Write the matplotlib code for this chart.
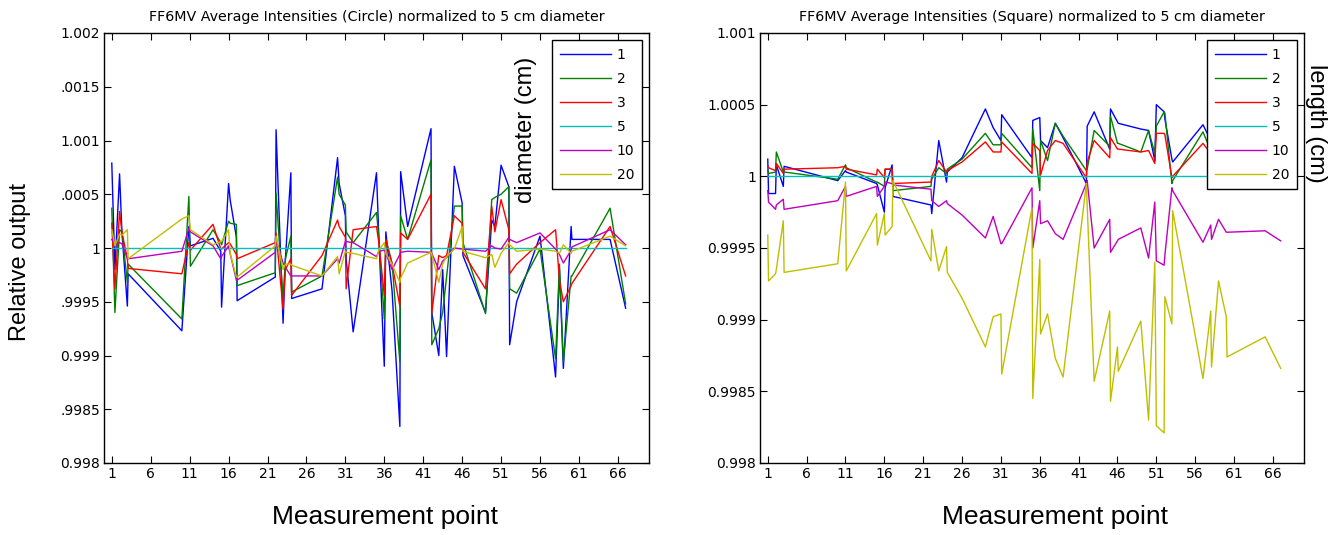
import numpy as np
import matplotlib.pyplot as plt

plt.rcParams['font.family'] = ['Liberation Sans', 'DejaVu Sans']

# legend entries (field size, cm) and Matlab default colours
sizes = ['1', '2', '3', '5', '10', '20']
colors = [(0, 0, 1), (0, 0.5, 0), (1, 0, 0), (0, 0.75, 0.75), (0.75, 0, 0.75), (0.75, 0.75, 0)]

# ---- Circle fields: measurement point, deviation from 1 in units of 1e-4 ----
circle_x = [1, 1.4, 2, 2.3, 3, 3.1, 10, 10.9, 11.1, 14, 15, 15.1, 16, 16.2, 17, 17.1,
            22, 22.1, 23, 23.3, 24, 24.1, 28, 30, 30.2, 31, 31.1, 32, 35, 35.3, 36, 36.2,
            37, 38, 38.1, 39, 42, 42.1, 43, 43.5, 44, 45, 46, 46.1, 49, 49.8, 50.2, 51,
            52, 52.1, 53, 56, 58, 58.5, 59, 60, 60.1, 65, 67]
circle_1 = [7.9, -2.0, 6.9, 1.5, -5.4, -2.4, -7.7, 2.0, 0.2, 0.9, -0.3, -5.5, 6.0, 4.5, 1.0, -4.9,
            -2.7, 11.0, -7.0, -1.0, 7.0, -4.7, -3.8, 8.4, 6.0, 3.0, -1.0, -7.8, 7.0, 1.0, -11.0, 1.5,
            -4.0, -16.6, 7.1, 2.0, 11.1, -6.0, -10.0, -2.0, -10.1, 7.6, 4.2, -0.7, -6.0, 2.6, 2.0, 7.7,
            5.7, -9.0, -5.0, 1.1, -12.0, -2.0, -11.2, 2.0, 0.8, 0.8, -5.6]
circle_2 = [3.7, -6.0, 1.7, 1.5, -3.2, -1.5, -6.6, 4.8, -1.7, 1.7, 0.5, 0.3, 2.5, 2.3, 2.2, -3.5,
            -2.3, 5.1, -4.7, -1.0, 1.1, -4.1, -2.6, 6.6, 5.0, 4.0, 1.5, 0.5, 3.3, 1.0, -6.6, 0.8,
            -1.4, -10.6, 3.0, 0.8, 8.2, -9.0, -7.5, -6.0, -2.7, 3.9, 3.9, 0.5, -6.1, 4.5, 4.7, 5.0,
            5.7, -3.8, -4.2, -0.1, -10.3, -1.5, -10.6, -2.6, -2.6, 3.7, -5.2]
circle_3 = [2.3, -3.8, 3.4, 1.5, -1.0, -1.9, -2.4, 0.5, -0.2, 2.2, -0.1, -0.1, 0.5, 0.4, -0.6, -1.0,
            0.5, 1.4, -5.7, -2.0, -1.0, -4.4, -0.7, 2.6, 2.0, 1.0, -3.8, 1.7, 2.0, 0.5, -4.4, 0.8,
            -1.5, -5.4, 1.4, 0.8, 5.0, -6.1, -0.7, -0.9, -0.7, 3.0, 2.3, -0.4, -3.8, 3.9, 1.5, 4.5,
            1.7, -2.4, -1.5, 0.5, 1.7, -3.0, -5.0, -3.5, -3.3, 2.0, -2.6]
circle_5 = [0.0] * len(circle_x)
circle_10 = [0.8, 0.3, 0.5, 0.4, -1.0, -1.0, -0.3, 1.8, 1.5, 0.2, -1.0, -0.8, 0.2, -0.5, -3.0, -3.0,
             -0.4, 0.8, -1.4, -1.8, -2.6, -2.6, -2.6, -1.0, -1.4, 0.6, 0.6, 0.5, -0.8, -0.3, -0.2, -0.5,
             -2.0, -0.6, -0.4, -0.3, -0.4, -0.5, -2.0, -1.2, -0.9, 0.0, -0.1, -0.1, -0.3, 0.2, 0.0, -0.1,
             1.0, 0.8, 0.5, 1.4, -0.1, -0.6, -1.4, -0.2, 0.1, 1.7, 0.3]
circle_20 = [1.7, 0.2, 1.3, 1.2, 1.7, -1.0, 2.7, 3.0, 1.7, 0.3, 0.6, 0.6, 1.7, -0.5, -2.7, -2.7,
             0.2, 1.1, -2.0, -1.5, -1.5, -1.6, -2.6, -0.8, -2.4, -0.3, -0.4, -0.5, -1.0, -0.2, 0.5, -0.5,
             -1.5, -3.2, -2.8, -1.4, -0.4, -0.6, -3.2, -1.5, -0.8, -0.1, 2.0, -0.3, -0.9, -0.6, -1.8, -0.5,
             0.5, 0.3, -0.3, -0.1, -0.3, -0.5, 0.3, -0.5, -0.3, 1.1, 0.2]

# ---- Square fields ----
square_x = [1, 1.1, 2, 2.1, 3, 3.1, 10, 11, 11.1, 15, 15.1, 16, 16.1, 17, 17.1, 22, 22.1, 23, 24, 24.1,
            26, 29, 30, 31, 31.1, 35, 35.1, 36, 36.1, 37, 38, 39, 42, 42.1, 43, 45, 45.1, 46, 46.1,
            49, 50, 50.8, 51, 52, 52.1, 53, 53.1, 57, 58, 58.1, 59, 60, 60.1, 65, 67]
square_1 = [1.2, -1.2, -1.2, 0.8, -0.7, 0.7, -0.3, 0.4, 0.3, -0.5, -0.6, -2.5, -0.8, 0.8, -1.4,
            -2.0, -2.6, 2.5, -0.4, 0.3, 1.3, 4.7, 3.4, 2.5, 4.3, 1.3, 3.9, 4.1, 2.5, 2.0, 3.7, 2.7,
            -0.5, 3.5, 4.5, 1.9, 4.7, 3.8, 3.7, 3.3, 3.2, 1.1, 5.0, 4.5, 4.0, 1.2, 1.0,
            3.6, 2.5, 3.0, 2.0, 2.5, 2.5, 2.5, 2.0]
square_2 = [0.4, 0.2, 0.3, 1.7, 0.3, 0.3, -0.2, 0.8, 0.6, -0.4, -0.4, -0.7, 0.5, 0.5, -1.0,
            -0.7, -0.2, 0.6, 0.2, 0.5, 1.2, 3.0, 2.2, 2.2, 3.0, 0.6, 3.3, -1.0, 2.5, 1.1, 3.7, 2.8,
            0.4, 0.5, 3.2, 2.1, 4.2, 2.3, 2.3, 1.7, 3.2, 1.6, 3.5, 4.5, 4.4, -0.5, -0.3,
            3.1, 1.8, 2.2, 1.6, 2.0, 2.0, 2.0, 1.6]
square_3 = [0.7, 0.6, 0.4, 0.9, 0.2, 0.5, 0.6, 0.7, 0.5, 0.1, 0.5, -0.1, 0.5, 0.5, -0.5,
            -0.4, 0.0, 1.1, 0.3, 0.4, 1.0, 2.4, 1.7, 1.7, 2.4, 0.2, 2.3, 1.8, 0.1, 1.8, 2.5, 2.3,
            -0.1, 1.0, 2.5, 1.3, 2.7, 1.9, 1.9, 1.7, 1.8, 0.9, 3.0, 3.0, 2.9, -0.1, 0.0,
            2.3, 1.6, 1.8, 1.4, 1.7, 1.7, 1.7, 1.4]
square_5 = [0.0] * len(square_x)
square_10 = [-1.0, -1.8, -2.3, -2.0, -1.6, -2.3, -1.7, -0.7, -1.4, -0.7, -1.4, -0.7, -0.4, -0.5, -0.6,
             -0.9, -1.7, -2.1, -1.7, -1.9, -2.7, -4.3, -2.8, -4.7, -4.7, -0.8, -5.0, -1.7, -3.3, -3.1, -4.0, -4.4,
             -0.5, -0.3, -5.0, -3.0, -5.3, -4.5, -4.4, -3.6, -5.7, -1.8, -5.9, -6.2, -5.5, -0.8, -1.0,
             -4.6, -3.4, -4.4, -3.0, -3.9, -3.9, -3.8, -4.5]
square_20 = [-4.1, -7.3, -6.8, -6.5, -3.1, -6.7, -6.1, -0.4, -6.6, -2.6, -4.8, -2.6, -4.1, -3.5, -0.3,
             -5.9, -3.7, -6.6, -4.9, -6.7, -8.5, -11.9, -9.8, -9.6, -13.8, -2.2, -15.5, -5.8, -11.0, -9.6, -12.7, -14.0,
             -0.5, -2.0, -14.3, -9.4, -15.7, -11.9, -13.6, -10.1, -17.0, -6.0, -17.4, -17.9, -8.4, -10.3, -2.4,
             -14.1, -9.4, -13.3, -7.3, -9.8, -12.6, -11.2, -13.4]

xticks = list(range(1, 67, 5))
circle_yticks = [0.998, 0.9985, 0.999, 0.9995, 1.0, 1.0005, 1.001, 1.0015, 1.002]
circle_ylabels = ['0.998', '.9985', '0.999', '.9995', '1', '.0005', '1.001', '.0015', '1.002']
square_yticks = [0.998, 0.9985, 0.999, 0.9995, 1.0, 1.0005, 1.001]
square_ylabels = ['0.998', '0.9985', '0.999', '0.9995', '1', '1.0005', '1.001']

W, H = 1335, 535
fig = plt.figure(figsize=(W / 100, H / 100), dpi=100)
axL = fig.add_axes([104 / W, 72 / H, 545 / W, 430 / H])
axR = fig.add_axes([760 / W, 72 / H, 544 / W, 430 / H])

small = 'DejaVu Sans'


def draw_panel(ax, x, series, yticks, ylabels, title):
    for vals, c, lab in zip(series, colors, sizes):
        ax.plot(x, 1 + np.array(vals) * 1e-4, '-', color=c, linewidth=1.0, label=lab)
    ax.set_xlim(0, 70)
    ax.set_ylim(yticks[0], yticks[-1])
    ax.set_xticks(xticks)
    ax.set_yticks(yticks)
    ax.set_yticklabels(ylabels)
    ax.tick_params(direction='in', top=True, right=True, length=5, width=0.8,
                   labelsize=10, pad=3)
    for lbl in ax.get_xticklabels() + ax.get_yticklabels():
        lbl.set_family(small)
    for s in ax.spines.values():
        s.set_linewidth(1.0)
    ax.set_title(title, fontsize=10.3, family=small, pad=9)
    leg = ax.legend(loc='upper right', prop={'family': small, 'size': 10},
                    handlelength=3.7, handletextpad=0.4,
                    borderpad=0.55, labelspacing=0.72, borderaxespad=0.5,
                    fancybox=False, framealpha=1, edgecolor='black')
    leg.get_frame().set_linewidth(1.0)


draw_panel(axL, circle_x, [circle_1, circle_2, circle_3, circle_5, circle_10, circle_20],
           circle_yticks, circle_ylabels,
           'FF6MV Average Intensities (Circle) normalized to 5 cm diameter')
draw_panel(axR, square_x, [square_1, square_2, square_3, square_5, square_10, square_20],
           square_yticks, square_ylabels,
           'FF6MV Average Intensities (Square) normalized to 5 cm diameter')

fig.text(20 / W, 1 - 262 / H, 'Relative output', rotation=90, fontsize=17, ha='center', va='center')
fig.text(385 / W, 1 - 517 / H, 'Measurement point', fontsize=19, ha='center', va='center')
fig.text(1055 / W, 1 - 517 / H, 'Measurement point', fontsize=19, ha='center', va='center')
fig.text(526 / W, 1 - 130 / H, 'diameter (cm)', rotation=90, fontsize=17, ha='center', va='center')
fig.text(1316 / W, 1 - 123 / H, 'length (cm)', rotation=270, fontsize=17, ha='center', va='center')

fig.savefig('out.png', dpi=100)
